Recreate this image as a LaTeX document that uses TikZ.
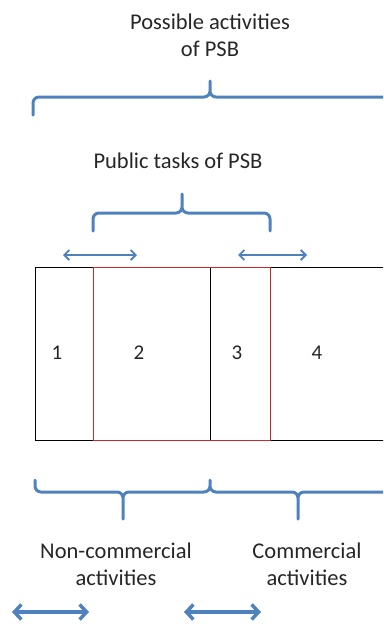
\documentclass[tikz,border=0pt]{standalone}
\usepackage{fontspec}
\setmainfont{Carlito}
\usetikzlibrary{arrows.meta}
\definecolor{psbblue}{RGB}{79,129,189}
\definecolor{psbred}{RGB}{204,40,40}
\tikzset{
  brace/.style={draw=psbblue, line width=3pt, line cap=round},
  thinarrow/.style={draw=psbblue, line width=1.8pt, {Straight Barb[length=5pt,width=10pt]}-{Straight Barb[length=5pt,width=10pt]}},
  thickarrow/.style={draw=psbblue, line width=3.5pt, {Straight Barb[length=7pt,width=15pt]}-{Straight Barb[length=7pt,width=15pt]}},
  label/.style={inner sep=0pt, align=center, font=\fontsize{22.5}{27}\selectfont, text=black!85},
  cellnum/.style={inner sep=0pt, font=\fontsize{21}{24}\selectfont, text=black!85}
}
\begin{document}
\begin{tikzpicture}[x=1pt,y=1pt,yscale=-1,xscale=1]
\useasboundingbox (0,0) rectangle (383,626);
\clip (0,0) rectangle (383,626);
% Text Nodes
\node[label] (possible) at (210,35) {Possible activities\\of PSB};
\node[label] (public) at (178,161) {Public tasks of PSB};
\node[label] (noncom) at (116,564) {Non-commercial\\activities};
\node[label] (com) at (307,564) {Commercial\\activities};

% Top brace
\draw[brace] (33,115) -- (33,103) to[out=-90,in=180] (39,97) -- (204,97) to[out=0,in=90] (210,91) -- (210,81)
  (210,91) to[out=90,in=180] (216,97) -- (395,97);
% Public tasks brace
\draw[brace] (93,231) -- (93,219) to[out=-90,in=180] (99,213) -- (176,213) to[out=0,in=90] (182,207) -- (182,194)
  (182,207) to[out=90,in=180] (188,213) -- (264,213) to[out=0,in=-90] (270,219) -- (270,231);

% Small arrows
\coordinate (a1l) at (63,255);
\coordinate (a1r) at (137,255);
\coordinate (a2l) at (238,255);
\coordinate (a2r) at (307,255);
\draw[thinarrow] (a1l) -- (a1r);
\draw[thinarrow] (a2l) -- (a2r);

% Cells
\draw[line width=1pt, black] (35,267) rectangle (395,440);
\draw[line width=1pt, black] (210,267) -- (210,440);
\draw[line width=1pt, psbred] (93,267) rectangle (270,440);
\node[cellnum] (one) at (57,353) {1};
\node[cellnum] (two) at (139,353) {2};
\node[cellnum] (three) at (237,353) {3};
\node[cellnum] (four) at (317,353) {4};

% Bottom braces
\draw[brace] (35,480) -- (35,486) to[out=90,in=180] (41,492) -- (117,492) to[out=0,in=-90] (123,498) -- (123,519)
  (123,498) to[out=-90,in=180] (129,492) -- (204,492) to[out=0,in=90] (210,486) -- (210,480)
  (210,486) to[out=90,in=180] (216,492) -- (292,492) to[out=0,in=-90] (298,498) -- (298,519)
  (298,498) to[out=-90,in=180] (304,492) -- (395,492);

% Bottom arrows
\coordinate (b1l) at (12,612);
\coordinate (b1r) at (89,612);
\coordinate (b2l) at (184,612);
\coordinate (b2r) at (261,612);
\draw[thickarrow] (b1l) -- (b1r);
\draw[thickarrow] (b2l) -- (b2r);
\end{tikzpicture}
\end{document}
